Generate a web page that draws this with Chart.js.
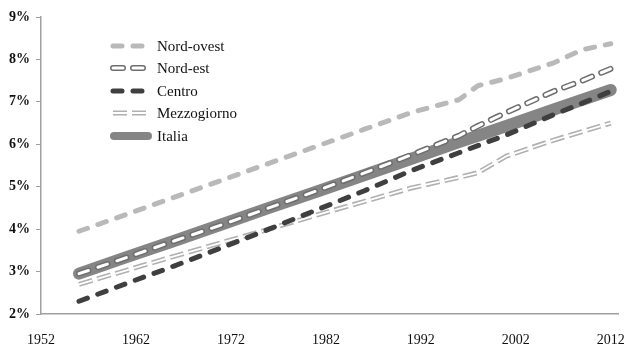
<!DOCTYPE html>
<html>
<head>
<meta charset="utf-8">
<script src="https://cdn.jsdelivr.net/npm/chart.js@4.4.0/dist/chart.umd.min.js"></script>
<style>
  body { margin: 0; background: #fff; }
  #wrap { width: 635px; height: 352px; }
</style>
</head>
<body>
<div id="wrap"><canvas id="chart" width="635" height="352"></canvas></div>
<script>
// data (percent)
const years = [1956, 1961, 1966, 1971, 1976, 1981, 1986, 1991, 1996, 1998, 2001, 2006, 2009, 2012]
const nordOvest = [3.95, 4.35, 4.75, 5.15, 5.55, 5.95, 6.35, 6.75, 7.05, 7.38, 7.55, 7.92, 8.23, 8.37]
const nordEst = [2.95, 3.33, 3.72, 4.10, 4.50, 4.90, 5.32, 5.75, 6.20, 6.43, 6.75, 7.25, 7.50, 7.78]
const centro = [2.30, 2.72, 3.13, 3.56, 4.00, 4.45, 4.90, 5.38, 5.80, 5.97, 6.22, 6.70, 6.97, 7.25]
const mezzogiorno = [2.70, 3.03, 3.36, 3.68, 4.00, 4.33, 4.65, 4.97, 5.22, 5.33, 5.72, 6.10, 6.30, 6.50]
const italia = [2.95, 3.34, 3.72, 4.11, 4.50, 4.88, 5.27, 5.66, 6.05, 6.20, 6.43, 6.82, 7.05, 7.28]
const xTicks = [1952, 1962, 1972, 1982, 1992, 2002, 2012]
const seriesNames = ["Nord-ovest", "Nord-est", "Centro", "Mezzogiorno", "Italia"]

const pts = (vals) => years.map((y, i) => ({ x: y, y: vals[i] }))
const FONT = "'Liberation Serif', 'Times New Roman', serif"

// line styles, reused by the legend
const styles = {
  "Nord-ovest": [{ color: "#b9b9b9", width: 5, dash: [9, 11], cap: "round" }],
  "Nord-est": [
    { color: "#6e6e6e", width: 6, dash: [10, 10], cap: "round" },
    { color: "#ffffff", width: 3, dash: [10, 10], cap: "round" },
  ],
  "Centro": [{ color: "#3f3f3f", width: 5, dash: [9, 11], cap: "round" }],
  "Mezzogiorno": [
    { color: "#b0b0b0", width: 5, dash: [14, 5], cap: "butt" },
    { color: "#ffffff", width: 1.8, dash: [14, 5], cap: "butt" },
  ],
  "Italia": [{ color: "#858585", width: 12, dash: [], cap: "round" }],
}

const ds = (vals, st, order) => ({
  data: pts(vals),
  borderColor: st.color,
  borderWidth: st.width,
  borderDash: st.dash,
  borderCapStyle: st.cap,
  borderJoinStyle: "round",
  pointRadius: 0,
  tension: 0,
  fill: false,
  order: order,
})

const legendPlugin = {
  id: "insideLegend",
  afterDatasetsDraw(chart) {
    const ctx = chart.ctx
    const rows = [46, 68, 91, 113, 136]
    seriesNames.forEach((name, i) => {
      const y = rows[i]
      styles[name].forEach((st) => {
        ctx.save()
        ctx.beginPath()
        ctx.strokeStyle = st.color
        ctx.lineWidth = name === "Italia" ? 8 : st.width
        ctx.setLineDash(st.dash)
        ctx.lineCap = st.cap
        ctx.moveTo(name === "Italia" ? 114 : 113, y)
        ctx.lineTo(name === "Italia" ? 148 : 150, y)
        ctx.stroke()
        ctx.restore()
      })
      ctx.save()
      ctx.fillStyle = "#111"
      ctx.font = "15px " + FONT
      ctx.textBaseline = "middle"
      ctx.fillText(name, 157, y + 1)
      ctx.restore()
    })
  },
}

new Chart(document.getElementById("chart").getContext("2d"), {
  type: "line",
  data: {
    datasets: [
      ds(centro, styles["Centro"][0], 1),
      ds(nordEst, styles["Nord-est"][1], 2),
      ds(nordEst, styles["Nord-est"][0], 3),
      ds(nordOvest, styles["Nord-ovest"][0], 4),
      ds(mezzogiorno, styles["Mezzogiorno"][1], 5),
      ds(mezzogiorno, styles["Mezzogiorno"][0], 6),
      ds(italia, styles["Italia"][0], 7),
    ],
  },
  options: {
    responsive: false,
    animation: false,
    devicePixelRatio: 1,
    layout: { padding: { top: 17, right: 15, left: 0, bottom: 0 } },
    plugins: {
      legend: { display: false },
      tooltip: { enabled: false },
    },
    scales: {
      x: {
        type: "linear",
        min: 1952,
        max: 2012.84,
        afterBuildTicks: (axis) => {
          axis.ticks = xTicks.map((v) => ({ value: v }))
        },
        afterFit: (axis) => { axis.height = 38 },
        grid: { display: false },
        border: { display: true, color: "#a0a0a0", width: 1.5 },
        ticks: {
          color: "#111",
          font: { family: FONT, size: 14 },
          padding: 10,
          maxRotation: 0,
          callback: (v) => String(v),
        },
      },
      y: {
        min: 2,
        max: 9,
        afterFit: (axis) => { axis.width = 41 },
        grid: {
          drawOnChartArea: false,
          drawTicks: true,
          tickLength: 5,
          color: "#a0a0a0",
        },
        border: { display: true, color: "#a0a0a0", width: 1.5 },
        ticks: {
          stepSize: 1,
          color: "#111",
          font: { family: FONT, size: 14, weight: "bold" },
          padding: 6,
          callback: (v) => v + "%",
        },
      },
    },
  },
  plugins: [legendPlugin],
})
</script>
</body>
</html>
